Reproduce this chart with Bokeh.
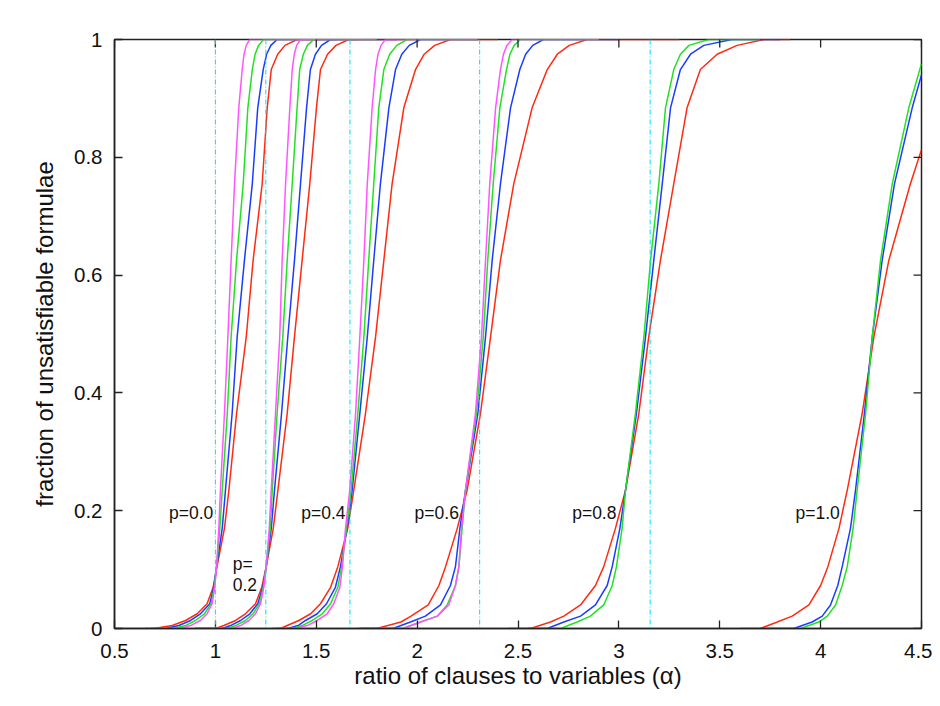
import math
from bokeh.plotting import figure
from bokeh.models import Range1d, FixedTicker, Span, ColumnDataSource
from bokeh.core.properties import value
from bokeh.embed import file_html
from bokeh.resources import INLINE

# ---------------- data ----------------
X_TICKS = [0.5, 1.0, 1.5, 2.0, 2.5, 3.0, 3.5, 4.0, 4.5]
X_TICK_LABELS = ["0.5", "1", "1.5", "2", "2.5", "3", "3.5", "4", "4.5"]
Y_TICKS = [0.0, 0.2, 0.4, 0.6, 0.8, 1.0]
Y_TICK_LABELS = ["0", "0.2", "0.4", "0.6", "0.8", "1"]

# dash-dot threshold markers (alpha)
THRESHOLDS = [1.0, 1.25, 1.667, 2.31, 3.155]

# fraction levels at which the curves were read (p = 0.0, 0.2, 0.4)
LEVELS_A = [0, 0, 0.005, 0.0136, 0.025, 0.042, 0.070, 0.105, 0.17, 0.235,
            0.365, 0.495, 0.625, 0.755, 0.884, 0.949, 0.975, 0.99, 1, 1]
# fraction levels at which the curves were read (p = 0.6, 0.8)
LEVELS_B = [0, 0, 0.011, 0.021, 0.04, 0.073, 0.105, 0.17, 0.235,
            0.365, 0.495, 0.625, 0.755, 0.884, 0.949, 0.975, 0.99, 1, 1]

# p = 0.0
P00_RED = [0.65, 0.695, 0.786, 0.852, 0.910, 0.959, 0.989, 1.008, 1.045, 1.067, 1.105, 1.153, 1.187, 1.232, 1.257, 1.277, 1.309, 1.345, 1.405, 1.70]
P00_BLUE = [0.68, 0.753, 0.819, 0.877, 0.926, 0.972, 0.992, 1.006, 1.034, 1.050, 1.083, 1.108, 1.144, 1.183, 1.210, 1.237, 1.254, 1.275, 1.306, 1.60]
P00_GREEN = [0.70, 0.794, 0.852, 0.901, 0.946, 0.979, 0.995, 1.006, 1.022, 1.034, 1.059, 1.078, 1.105, 1.138, 1.161, 1.183, 1.197, 1.214, 1.239, 1.50]
P00_MAGENTA = [0.50, 0.827, 0.877, 0.926, 0.959, 0.984, 0.997, 1.006, 1.017, 1.025, 1.045, 1.062, 1.078, 1.095, 1.116, 1.133, 1.142, 1.153, 1.170, 1.50]

# p = 0.2
P02_RED = [0.90, 1.001, 1.042, 1.100, 1.149, 1.199, 1.230, 1.252, 1.287, 1.310, 1.356, 1.392, 1.430, 1.468, 1.501, 1.521, 1.556, 1.598, 1.661, 2.00]
P02_BLUE = [0.90, 1.034, 1.075, 1.125, 1.171, 1.210, 1.235, 1.252, 1.277, 1.293, 1.328, 1.359, 1.392, 1.422, 1.452, 1.471, 1.496, 1.526, 1.571, 1.90]
P02_GREEN = [0.90, 1.059, 1.100, 1.149, 1.187, 1.218, 1.238, 1.252, 1.272, 1.282, 1.306, 1.334, 1.356, 1.381, 1.405, 1.418, 1.436, 1.456, 1.488, 1.80]
P02_MAGENTA = [0.90, 1.083, 1.125, 1.166, 1.199, 1.224, 1.240, 1.252, 1.267, 1.277, 1.298, 1.319, 1.331, 1.348, 1.369, 1.381, 1.391, 1.403, 1.422, 1.80]

# p = 0.4
P04_RED = [1.28, 1.323, 1.356, 1.414, 1.472, 1.521, 1.571, 1.607, 1.656, 1.686, 1.744, 1.794, 1.835, 1.876, 1.934, 1.992, 2.035, 2.087, 2.165, 2.40]
P04_BLUE = [1.30, 1.360, 1.410, 1.447, 1.505, 1.551, 1.595, 1.620, 1.653, 1.678, 1.716, 1.753, 1.785, 1.818, 1.860, 1.893, 1.924, 1.961, 2.017, 2.30]
P04_GREEN = [1.30, 1.380, 1.430, 1.480, 1.530, 1.571, 1.607, 1.626, 1.650, 1.673, 1.706, 1.736, 1.760, 1.785, 1.810, 1.835, 1.864, 1.899, 1.951, 2.30]
P04_MAGENTA = [1.30, 1.400, 1.455, 1.505, 1.554, 1.587, 1.617, 1.630, 1.645, 1.666, 1.695, 1.716, 1.736, 1.753, 1.777, 1.794, 1.806, 1.821, 1.843, 2.30]

# p = 0.6
P06_RED = [1.70, 1.80, 1.92, 1.97, 2.055, 2.108, 2.141, 2.199, 2.248, 2.314, 2.364, 2.413, 2.479, 2.570, 2.645, 2.695, 2.754, 2.843, 3.30]
P06_BLUE = [1.72, 1.88, 1.967, 2.041, 2.116, 2.165, 2.190, 2.212, 2.240, 2.301, 2.339, 2.372, 2.413, 2.463, 2.509, 2.538, 2.573, 2.626, 3.00]
P06_GREEN = [1.75, 1.93, 2.017, 2.100, 2.149, 2.190, 2.207, 2.223, 2.240, 2.294, 2.328, 2.350, 2.377, 2.410, 2.443, 2.460, 2.481, 2.512, 2.90]
P06_MAGENTA = [1.75, 1.93, 2.017, 2.100, 2.157, 2.190, 2.207, 2.220, 2.240, 2.289, 2.319, 2.339, 2.360, 2.389, 2.413, 2.428, 2.445, 2.471, 2.90]

# p = 0.8
P08_RED = [2.45, 2.562, 2.661, 2.727, 2.810, 2.884, 2.925, 2.983, 3.033, 3.099, 3.148, 3.206, 3.272, 3.338, 3.404, 3.487, 3.586, 3.720, 3.85]
P08_BLUE = [2.55, 2.645, 2.727, 2.810, 2.884, 2.942, 2.967, 3.005, 3.033, 3.087, 3.132, 3.173, 3.215, 3.256, 3.305, 3.355, 3.421, 3.560, 3.80]
P08_GREEN = [2.55, 2.711, 2.793, 2.859, 2.925, 2.967, 2.988, 3.016, 3.033, 3.082, 3.124, 3.157, 3.198, 3.231, 3.272, 3.305, 3.347, 3.445, 3.70]

# p = 1.0 (curves leave the plotted range at alpha = 4.5)
P10_RED_X = [3.60, 3.702, 3.785, 3.859, 3.942, 4.000, 4.036, 4.091, 4.132, 4.206, 4.264, 4.338, 4.445, 4.5]
P10_RED_Y = [0, 0, 0.011, 0.021, 0.04, 0.073, 0.105, 0.17, 0.235, 0.365, 0.495, 0.625, 0.755, 0.813]
P10_BLUE_X = [3.70, 3.867, 3.958, 4.008, 4.049, 4.085, 4.107, 4.148, 4.173, 4.217, 4.256, 4.305, 4.366, 4.454, 4.5]
P10_BLUE_Y = [0, 0, 0.011, 0.021, 0.04, 0.073, 0.105, 0.17, 0.235, 0.365, 0.495, 0.625, 0.755, 0.884, 0.940]
P10_GREEN_X = [3.75, 3.900, 3.991, 4.033, 4.074, 4.107, 4.132, 4.161, 4.181, 4.223, 4.256, 4.297, 4.355, 4.437, 4.5]
P10_GREEN_Y = [0, 0, 0.011, 0.021, 0.04, 0.073, 0.105, 0.17, 0.235, 0.365, 0.495, 0.625, 0.755, 0.884, 0.959]

LABEL_TEXT_R = ["p=0.0", "p=0.4", "p=0.6", "p=0.8", "p=1.0"]
LABEL_X_R = [0.99, 1.645, 2.207, 2.988, 4.095]
LABEL_Y_R = [0.196, 0.196, 0.196, 0.196, 0.196]
LABEL_TEXT_L = ["p=", "0.2"]
LABEL_X_L = [1.086, 1.086]
LABEL_Y_L = [0.110, 0.074]

# ---------------- styling ----------------
RED = "#ff2a10"
BLUE = "#1a3cff"
GREEN = "#22e022"
MAGENTA = "#ff55ff"
CYAN = "#00e0f0"
INK = "#222222"
FONT = "Liberation Sans"

p = figure(
    frame_width=807, frame_height=589,
    x_range=Range1d(X_TICKS[0], X_TICKS[-1]), y_range=Range1d(Y_TICKS[0], Y_TICKS[-1]),
    output_backend="svg", toolbar_location=None,
    min_border_left=114, min_border_top=39, min_border_right=11, min_border_bottom=70,
)
p.grid.visible = False
p.outline_line_color = INK
p.outline_line_width = 1.5
p.background_fill_color = "white"
p.border_fill_color = "white"

for loc in THRESHOLDS:
    p.add_layout(Span(location=loc, dimension="height", line_color=CYAN,
                      line_width=1, line_dash="5 2 1 2"))

curves = [
    (P00_RED, LEVELS_A, RED), (P00_BLUE, LEVELS_A, BLUE), (P00_GREEN, LEVELS_A, GREEN), (P00_MAGENTA, LEVELS_A, MAGENTA),
    (P02_RED, LEVELS_A, RED), (P02_BLUE, LEVELS_A, BLUE), (P02_GREEN, LEVELS_A, GREEN), (P02_MAGENTA, LEVELS_A, MAGENTA),
    (P04_RED, LEVELS_A, RED), (P04_BLUE, LEVELS_A, BLUE), (P04_GREEN, LEVELS_A, GREEN), (P04_MAGENTA, LEVELS_A, MAGENTA),
    (P06_RED, LEVELS_B, RED), (P06_BLUE, LEVELS_B, BLUE), (P06_GREEN, LEVELS_B, GREEN), (P06_MAGENTA, LEVELS_B, MAGENTA),
    (P08_RED, LEVELS_B, RED), (P08_BLUE, LEVELS_B, BLUE), (P08_GREEN, LEVELS_B, GREEN),
    (P10_RED_X, P10_RED_Y, RED), (P10_BLUE_X, P10_BLUE_Y, BLUE), (P10_GREEN_X, P10_GREEN_Y, GREEN),
]
for xs, ys, col in curves:
    p.line(xs, ys, line_color=col, line_width=1.5)

src_r = ColumnDataSource(dict(x=LABEL_X_R, y=LABEL_Y_R, t=LABEL_TEXT_R))
p.text(x="x", y="y", text="t", source=src_r, text_font=value(FONT), text_font_size="17.5px",
       text_align="right", text_baseline="middle", text_color="#111111")
src_l = ColumnDataSource(dict(x=LABEL_X_L, y=LABEL_Y_L, t=LABEL_TEXT_L))
p.text(x="x", y="y", text="t", source=src_l, text_font=value(FONT), text_font_size="17.5px",
       text_align="left", text_baseline="middle", text_color="#111111")

# inward ticks on the top and right frame edges (markers are clipped to the frame)
p.scatter(x=X_TICKS, y=[Y_TICKS[-1]] * len(X_TICKS), marker="dash", size=16,
          angle=math.pi / 2, line_color=INK, line_width=1.3)
p.scatter(x=[X_TICKS[-1]] * len(Y_TICKS), y=Y_TICKS, marker="dash", size=16,
          line_color=INK, line_width=1.3)

def style_axis(ax, ticks, labels):
    ax.ticker = FixedTicker(ticks=ticks)
    ax.major_label_overrides = {t: l for t, l in zip(ticks, labels)}
    ax.major_tick_in = 8
    ax.major_tick_out = 0
    ax.minor_tick_line_color = None
    ax.axis_line_color = INK
    ax.axis_line_width = 1.5
    ax.major_tick_line_color = INK
    ax.major_tick_line_width = 1.3
    ax.major_label_text_font = FONT
    ax.major_label_text_color = "#111111"
    ax.major_label_text_font_size = "20.5px"
    ax.axis_label_text_font = FONT
    ax.axis_label_text_font_style = "normal"
    ax.axis_label_text_color = "#111111"
    ax.axis_label_text_font_size = "24px"

xa = p.xaxis[0]
ya = p.yaxis[0]
style_axis(xa, X_TICKS, X_TICK_LABELS)
style_axis(ya, Y_TICKS, Y_TICK_LABELS)
xa.axis_label = "ratio of clauses to variables (α)"
ya.axis_label = "fraction of unsatisfiable formulae"
xa.major_label_standoff = 15
xa.axis_label_standoff = 1
ya.major_label_standoff = 12
ya.axis_label_standoff = 13

open("out.html", "w").write(file_html(p, INLINE))
